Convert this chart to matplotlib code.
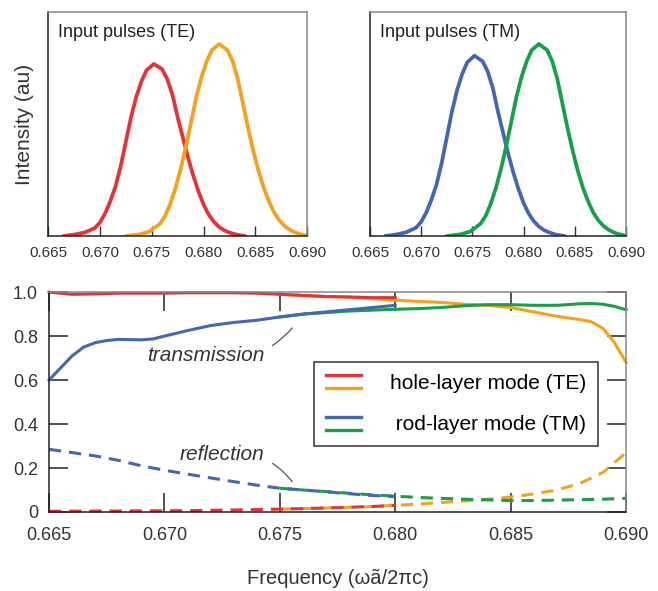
import matplotlib
matplotlib.use("Agg")
import matplotlib.pyplot as plt
from matplotlib.lines import Line2D

plt.rcParams['font.family'] = ['Liberation Sans', 'DejaVu Sans']

RED = '#e5323a'
ORANGE = '#f4a11e'
BLUE = '#4566b0'
GREEN = '#18a048'

# input pulses (intensity, arbitrary units)
pulse_x_lo = [0.6665, 0.6675, 0.6685, 0.6695, 0.6700, 0.6705, 0.6710, 0.6715, 0.6720, 0.6725,
              0.6730, 0.6735, 0.6740, 0.6745, 0.6752, 0.6760, 0.6765, 0.6770, 0.6775, 0.6780,
              0.6785, 0.6790, 0.6795, 0.6800, 0.6805, 0.6810, 0.6815, 0.6820, 0.6825, 0.6830,
              0.6835, 0.6840]
pulse_red = [0.0, 0.006, 0.015, 0.035, 0.06, 0.10, 0.155, 0.22, 0.31, 0.42,
             0.53, 0.62, 0.69, 0.74, 0.768, 0.745, 0.70, 0.63, 0.53, 0.44,
             0.35, 0.27, 0.20, 0.14, 0.095, 0.063, 0.04, 0.025, 0.015, 0.008,
             0.003, 0.0]
pulse_blue = [0.0, 0.006, 0.016, 0.037, 0.063, 0.105, 0.162, 0.23, 0.325, 0.44,
              0.555, 0.65, 0.723, 0.775, 0.805, 0.78, 0.734, 0.66, 0.555, 0.46,
              0.367, 0.283, 0.21, 0.147, 0.10, 0.066, 0.042, 0.026, 0.016, 0.008,
              0.003, 0.0]
pulse_x_hi = [0.6725, 0.6738, 0.6748, 0.6758, 0.6763, 0.6768, 0.6773, 0.6778, 0.6783, 0.6788,
              0.6793, 0.6798, 0.6803, 0.6808, 0.6815, 0.6823, 0.6828, 0.6833, 0.6838, 0.6843,
              0.6848, 0.6853, 0.6858, 0.6863, 0.6868, 0.6873, 0.6878, 0.6883, 0.6888, 0.6893,
              0.6898, 0.6900]
pulse_orange = [0.0, 0.007, 0.02, 0.055, 0.09, 0.145, 0.215, 0.30, 0.40, 0.51,
                0.62, 0.71, 0.78, 0.83, 0.857, 0.83, 0.78, 0.70, 0.59, 0.48,
                0.38, 0.29, 0.215, 0.155, 0.105, 0.07, 0.045, 0.028, 0.016, 0.008,
                0.003, 0.0]
pulse_green = [0.0, 0.007, 0.02, 0.055, 0.09, 0.145, 0.215, 0.30, 0.40, 0.51,
               0.62, 0.71, 0.78, 0.83, 0.857, 0.83, 0.78, 0.70, 0.59, 0.48,
               0.38, 0.29, 0.215, 0.155, 0.105, 0.07, 0.045, 0.028, 0.016, 0.008,
               0.003, 0.0]

# transmission
t_red_x = [0.665, 0.666, 0.667, 0.668, 0.669, 0.670, 0.671, 0.672, 0.673, 0.674, 0.675,
           0.676, 0.677, 0.678, 0.679, 0.680]
t_red = [1.0, 0.99, 0.992, 0.995, 0.995, 0.995, 0.997, 0.997, 0.997, 0.995, 0.99,
         0.985, 0.98, 0.978, 0.975, 0.975]
t_blue_x = [0.665, 0.6655, 0.666, 0.6665, 0.667, 0.6675, 0.668, 0.669, 0.6695, 0.670, 0.671,
            0.672, 0.673, 0.674, 0.675, 0.676, 0.677, 0.678, 0.679, 0.680]
t_blue = [0.60, 0.655, 0.71, 0.75, 0.77, 0.78, 0.785, 0.783, 0.787, 0.80, 0.825,
          0.848, 0.862, 0.872, 0.887, 0.90, 0.91, 0.92, 0.93, 0.94]
t_orange_x = [0.675, 0.676, 0.677, 0.678, 0.679, 0.680, 0.681, 0.682, 0.683, 0.684, 0.685,
              0.686, 0.687, 0.688, 0.6885, 0.689, 0.6895, 0.690]
t_orange = [0.99, 0.985, 0.98, 0.977, 0.97, 0.963, 0.958, 0.953, 0.945, 0.94, 0.93,
            0.91, 0.89, 0.875, 0.865, 0.835, 0.77, 0.68]
t_green_x = [0.675, 0.676, 0.677, 0.678, 0.679, 0.680, 0.681, 0.682, 0.683, 0.684, 0.685,
             0.686, 0.687, 0.688, 0.6885, 0.689, 0.6895, 0.690]
t_green = [0.887, 0.90, 0.907, 0.914, 0.918, 0.922, 0.925, 0.93, 0.938, 0.943, 0.943,
           0.94, 0.94, 0.947, 0.948, 0.945, 0.935, 0.92]

# reflection
r_blue_x = [0.665, 0.666, 0.667, 0.668, 0.669, 0.670, 0.671, 0.672, 0.673, 0.674, 0.675,
            0.676, 0.677, 0.678, 0.679, 0.680]
r_blue = [0.285, 0.27, 0.255, 0.235, 0.21, 0.19, 0.172, 0.155, 0.138, 0.122, 0.108,
          0.10, 0.092, 0.083, 0.075, 0.07]
r_green_x = [0.675, 0.676, 0.677, 0.678, 0.679, 0.680, 0.681, 0.682, 0.683, 0.684, 0.685,
             0.686, 0.687, 0.688, 0.689, 0.690]
r_green = [0.108, 0.10, 0.093, 0.085, 0.078, 0.072, 0.066, 0.062, 0.058, 0.055, 0.052,
           0.052, 0.054, 0.056, 0.058, 0.062]
r_red_x = [0.665, 0.667, 0.669, 0.671, 0.673, 0.675, 0.677, 0.679, 0.680]
r_red = [0.003, 0.004, 0.005, 0.006, 0.009, 0.013, 0.018, 0.025, 0.03]
r_orange_x = [0.675, 0.677, 0.679, 0.680, 0.681, 0.682, 0.683, 0.684, 0.685, 0.686, 0.687,
              0.688, 0.689, 0.690]
r_orange = [0.013, 0.018, 0.025, 0.03, 0.036, 0.043, 0.05, 0.058, 0.068, 0.082, 0.10,
            0.13, 0.18, 0.27]

xticks = [0.665, 0.670, 0.675, 0.680, 0.685, 0.690]
xticklabels = ['0.665', '0.670', '0.675', '0.680', '0.685', '0.690']
yticks = [0, 0.2, 0.4, 0.6, 0.8, 1.0]
yticklabels = ['0', '0.2', '0.4', '0.6', '0.8', '1.0']


def style_frame(ax):
    ax.spines['left'].set_color('#222222')
    ax.spines['bottom'].set_color('#222222')
    ax.spines['top'].set_color('#888888')
    ax.spines['right'].set_color('#888888')
    for s in ax.spines.values():
        s.set_linewidth(1.1)


fig = plt.figure(figsize=(6.58, 5.91), dpi=100)

# top panels
ax1 = fig.add_axes([0.073, 0.6007, 0.394, 0.379])
ax2 = fig.add_axes([0.5623, 0.6007, 0.389, 0.379])
panels = [(ax1, pulse_red, pulse_orange, RED, ORANGE, 'Input pulses (TE)'),
          (ax2, pulse_blue, pulse_green, BLUE, GREEN, 'Input pulses (TM)')]
for ax, y_lo, y_hi, c1, c2, title in panels:
    ax.plot(pulse_x_lo, y_lo, color=c1, lw=2.7, solid_capstyle='round', solid_joinstyle='round')
    ax.plot(pulse_x_hi, y_hi, color=c2, lw=2.7, solid_capstyle='round', solid_joinstyle='round')
    ax.set_xlim(0.665, 0.690)
    ax.set_ylim(0, 1.0)
    ax.set_xticks(xticks)
    ax.set_xticklabels(xticklabels, fontsize=11, color='#333333')
    ax.set_yticks([])
    ax.tick_params(axis='x', direction='in', length=7, width=1.0, pad=7, color='#333333')
    ax.text(0.04, 0.91, title, transform=ax.transAxes, fontsize=13, color='#222222',
            ha='left', va='center')
    style_frame(ax)
ax1.set_ylabel('Intensity (au)', fontsize=15, color='#333333', labelpad=10)

# bottom panel
ax3 = fig.add_axes([0.0745, 0.1337, 0.877, 0.372])
lw = 2.2
ax3.plot(t_orange_x, t_orange, color=ORANGE, lw=lw, clip_on=False)
ax3.plot(t_red_x, t_red, color=RED, lw=lw, clip_on=False)
ax3.plot(t_green_x, t_green, color=GREEN, lw=lw, clip_on=False)
ax3.plot(t_blue_x, t_blue, color=BLUE, lw=lw, clip_on=False)
ax3.plot(r_orange_x, r_orange, color=ORANGE, lw=lw, dashes=(4, 2.6), clip_on=False)
ax3.plot(r_red_x, r_red, color=RED, lw=lw, dashes=(4, 2.6), clip_on=False)
ax3.plot(r_green_x, r_green, color=GREEN, lw=lw, dashes=(4, 2.6), clip_on=False)
ax3.plot(r_blue_x, r_blue, color=BLUE, lw=lw, dashes=(4, 2.6), clip_on=False)

ax3.set_xlim(0.665, 0.690)
ax3.set_ylim(0, 1.0)
ax3.set_xticks(xticks)
ax3.set_xticklabels(xticklabels, fontsize=13, color='#333333')
ax3.set_yticks(yticks)
ax3.set_yticklabels(yticklabels, fontsize=13, color='#333333')
ax3.tick_params(axis='both', direction='in', length=14, width=1.2, color='#333333',
                top=True, right=True)
ax3.tick_params(axis='x', pad=11)
ax3.tick_params(axis='y', pad=8)
style_frame(ax3)
ax3.set_xlabel('Frequency (ωã/2πc)', fontsize=14.5, color='#333333', labelpad=18)

ax3.annotate('transmission', xy=(0.67554, 0.837), xytext=(0.67435, 0.712),
             fontsize=15, style='italic', color='#333333', ha='right', va='center',
             arrowprops=dict(arrowstyle='-', color='#555555', lw=0.9,
                             connectionstyle='arc3,rad=0.3', shrinkA=4, shrinkB=0))
ax3.annotate('reflection', xy=(0.67554, 0.137), xytext=(0.67435, 0.26),
             fontsize=15, style='italic', color='#333333', ha='right', va='center',
             arrowprops=dict(arrowstyle='-', color='#555555', lw=0.9,
                             connectionstyle='arc3,rad=-0.3', shrinkA=4, shrinkB=0))


class StackHandler:
    def legend_artist(self, legend, orig_handle, fontsize, handlebox):
        x0, y0 = handlebox.xdescent, handlebox.ydescent
        w, h = handlebox.width, handlebox.height
        c1, c2 = orig_handle
        top = Line2D([x0, x0 + w], [y0 + h * 0.9] * 2, color=c1, lw=2.4)
        bot = Line2D([x0, x0 + w], [y0 + h * 0.05] * 2, color=c2, lw=2.4)
        handlebox.add_artist(top)
        handlebox.add_artist(bot)
        return top


leg = ax3.legend([(RED, ORANGE), (BLUE, GREEN)],
                 ['hole-layer mode (TE)', ' rod-layer mode (TM)'],
                 handler_map={tuple: StackHandler()},
                 loc='center', bbox_to_anchor=(0.7055, 0.491), fontsize=15,
                 handlelength=1.7, handletextpad=1.4, labelspacing=1.1,
                 borderpad=0.55, borderaxespad=0, fancybox=False, framealpha=1)
leg.get_frame().set_edgecolor('#333333')
leg.get_frame().set_linewidth(1.1)

fig.savefig('out.png', dpi=100)
